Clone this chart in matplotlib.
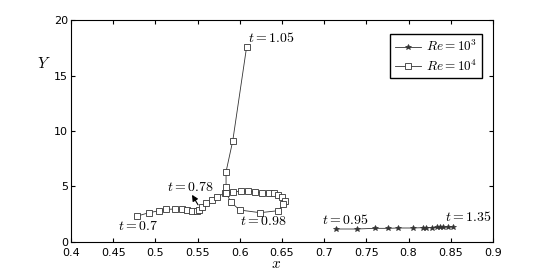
import matplotlib.pyplot as plt

plt.switch_backend("Agg")
plt.rcParams["mathtext.fontset"] = "cm"

# Re = 10^4 trajectory (squares), from t = 0.7 to t = 1.05
x_re4 = [0.4786, 0.4924, 0.5047, 0.5126, 0.523, 0.531, 0.538, 0.543, 0.549,
         0.552, 0.555, 0.560, 0.5667, 0.573, 0.582, 0.5916, 0.6014, 0.610,
         0.618, 0.626, 0.634, 0.640, 0.6456, 0.650, 0.653, 0.6516, 0.6456,
         0.624, 0.600, 0.5896, 0.5837, 0.5837, 0.5837, 0.5916, 0.608]
y_re4 = [2.34, 2.64, 2.82, 2.94, 2.97, 2.94, 2.88, 2.82, 2.79,
         2.88, 3.12, 3.48, 3.78, 4.08, 4.39, 4.48, 4.59, 4.56,
         4.50, 4.44, 4.41, 4.39, 4.23, 4.08, 3.69, 3.39, 2.82,
         2.64, 2.88, 3.57, 4.44, 4.98, 6.33, 9.1, 17.54]

# Re = 10^3 trajectory (stars), from t = 0.95 to t = 1.35
x_re3 = [0.7136, 0.7385, 0.7602, 0.776, 0.787, 0.8055, 0.8174, 0.8206,
         0.8273, 0.8333, 0.8372, 0.8411, 0.847, 0.853]
y_re3 = [1.17, 1.17, 1.23, 1.23, 1.26, 1.26, 1.29, 1.29,
         1.29, 1.32, 1.32, 1.32, 1.35, 1.35]

labels = ["$t = 0.7$", "$t = 0.78$", "$t = 0.98$", "$t = 1.05$", "$t = 0.95$", "$t = 1.35$"]
label_x = [0.456, 0.514, 0.600, 0.6097, 0.697, 0.843]
label_y = [1.45, 4.95, 1.92, 18.4, 1.98, 2.28]

fig = plt.figure(figsize=(5.45, 2.73), dpi=100)
ax = fig.add_axes([0.1303, 0.1136, 0.7743, 0.8131])

ax.plot(x_re3, y_re3, color="#333333", linewidth=0.6, marker="*",
        markersize=4, markeredgewidth=0.5, label="$Re = 10^3$")
ax.plot(x_re4, y_re4, color="#333333", linewidth=0.6, marker="s",
        markersize=3.8, markerfacecolor="white", markeredgewidth=0.6,
        label="$Re = 10^4$")

for txt, lx, ly in zip(labels, label_x, label_y):
    ax.text(lx, ly, txt, fontsize=10, va="center", ha="left")

# small arrow near t = 0.78
ax.annotate("", xy=(0.5434, 4.25), xytext=(0.5505, 3.35),
            arrowprops=dict(arrowstyle="-|>", color="black", lw=0.8,
                            mutation_scale=9, shrinkA=0, shrinkB=0))

ax.set_xlim(0.4, 0.9)
ax.set_ylim(0, 20)
ax.set_xticks([0.4, 0.45, 0.5, 0.55, 0.6, 0.65, 0.7, 0.75, 0.8, 0.85, 0.9])
ax.set_xticklabels(["0.4", "0.45", "0.5", "0.55", "0.6", "0.65", "0.7", "0.75", "0.8", "0.85", "0.9"])
ax.set_yticks([0, 5, 10, 15, 20])
ax.tick_params(direction="in", top=True, right=True, labelsize=8, length=3, pad=2)
ax.tick_params(axis="x", pad=4)
ax.set_xlabel("$x$", fontsize=11)
ax.xaxis.set_label_coords(0.486, -0.065)
ax.set_ylabel("$Y$", fontsize=11, rotation=0)
ax.yaxis.set_label_coords(-0.065, 0.77)

ax.legend(loc="upper right", fontsize=9.5, fancybox=False, edgecolor="black",
          framealpha=1, handlelength=2.0, handletextpad=0.4, borderpad=0.35,
          labelspacing=0.3, bbox_to_anchor=(0.99, 0.965))

fig.savefig("out.png", dpi=100)
plt.close(fig)
